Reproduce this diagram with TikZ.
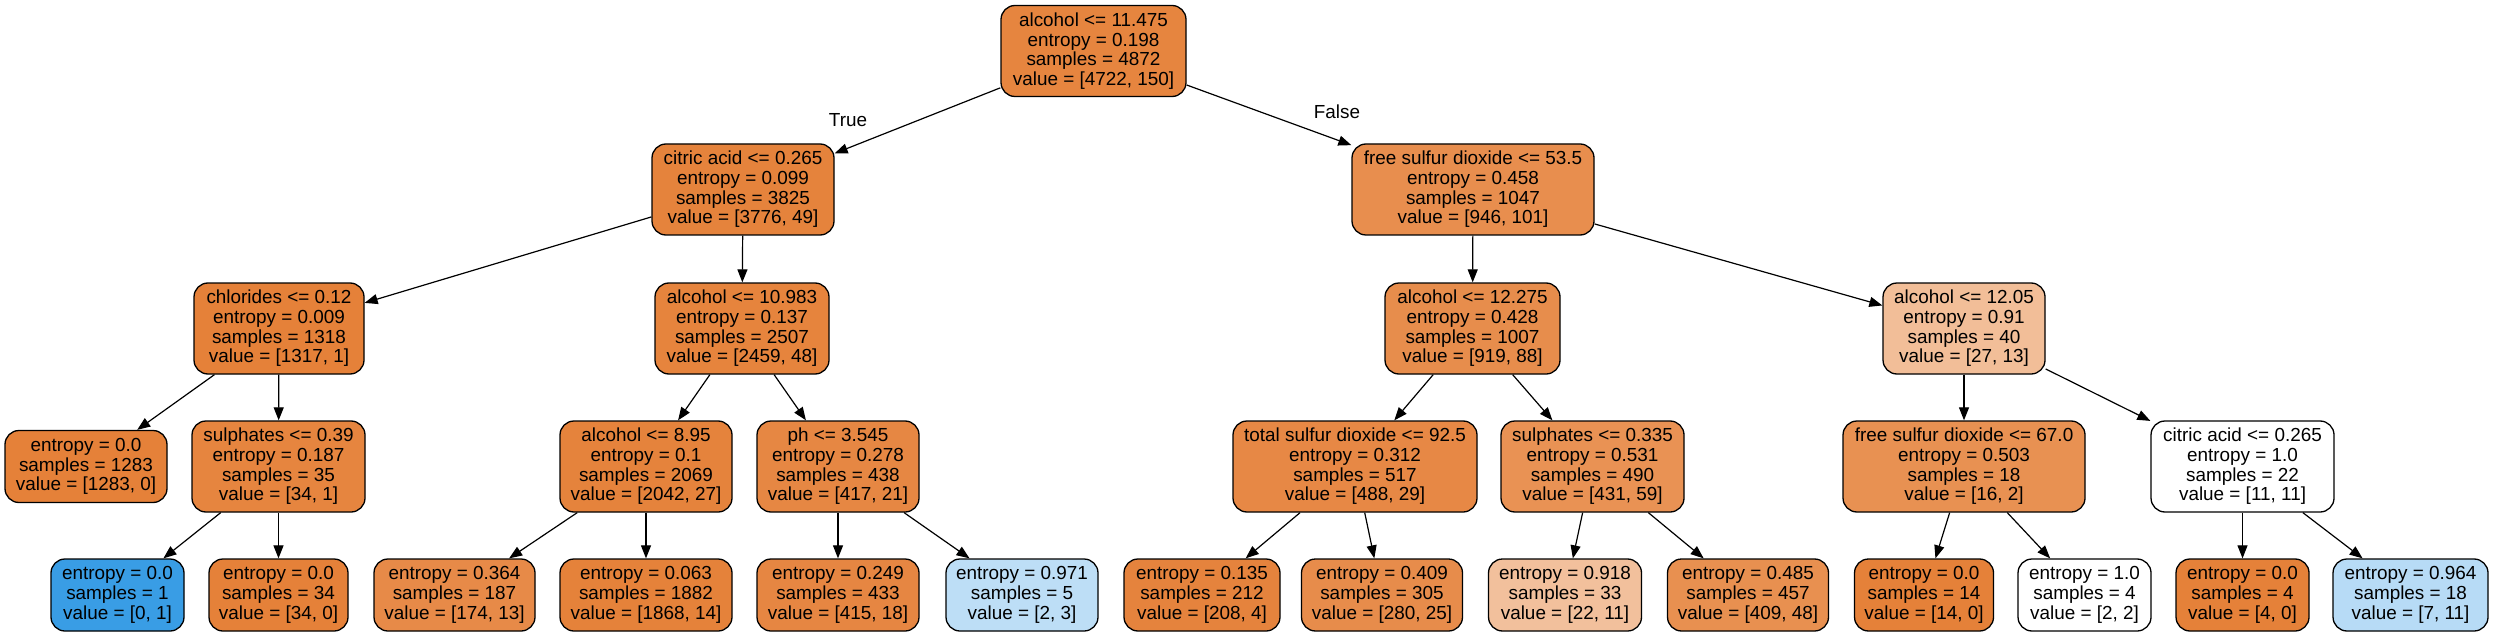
\documentclass[tikz,border=0pt]{standalone}
\usepackage{fontspec}
\setmainfont{Liberation Sans}
\usetikzlibrary{arrows.meta}
\definecolor{cor}{RGB}{229,129,57}
\definecolor{cbl}{RGB}{57,157,229}
\begin{document}
\begin{tikzpicture}[x=0.5pt,y=-0.5pt,
  base/.style={draw=black, line width=0.65pt, rounded corners=7pt, align=center, inner sep=0pt,
    font=\fontsize{9.45}{9.85}\selectfont},
  inn/.style={base, minimum height=45.5pt},
  lf/.style={base, minimum height=36pt},
  edge/.style={line width=0.6pt, -{Triangle[length=6.5pt,width=5pt]}},
  lbl/.style={font=\fontsize{9.45}{10}\selectfont, inner sep=0pt}]
\useasboundingbox[fill=white] (0,0) rectangle (2493,636);
% level 0
\node[inn, fill=cor!96.8!white, minimum width=92.5pt] (r) at (1093.5,51) {alcohol <= 11.475\\entropy = 0.198\\samples = 4872\\value = [4722, 150]};
% level 1
\node[inn, fill=cor!98.7!white, minimum width=91pt] (a) at (743,189.5) {citric acid <= 0.265\\entropy = 0.099\\samples = 3825\\value = [3776, 49]};
\node[inn, fill=cor!89.3!white, minimum width=121pt] (b) at (1473,189.5) {free sulfur dioxide <= 53.5\\entropy = 0.458\\samples = 1047\\value = [946, 101]};
% level 2
\node[inn, fill=cor!99.9!white, minimum width=85pt] (c) at (279,328.5) {chlorides <= 0.12\\entropy = 0.009\\samples = 1318\\value = [1317, 1]};
\node[inn, fill=cor!98!white, minimum width=87pt] (d) at (742,328.5) {alcohol <= 10.983\\entropy = 0.137\\samples = 2507\\value = [2459, 48]};
\node[inn, fill=cor!90.4!white, minimum width=87.5pt] (e) at (1472.5,328.5) {alcohol <= 12.275\\entropy = 0.428\\samples = 1007\\value = [919, 88]};
\node[inn, fill=cor!51.9!white, minimum width=81pt] (f) at (1964,328.5) {alcohol <= 12.05\\entropy = 0.91\\samples = 40\\value = [27, 13]};
% level 3
\node[lf, fill=cor, minimum width=81pt] (g) at (86,466.5) {entropy = 0.0\\samples = 1283\\value = [1283, 0]};
\node[inn, fill=cor!97.1!white, minimum width=86.5pt] (h) at (278.5,466.5) {sulphates <= 0.39\\entropy = 0.187\\samples = 35\\value = [34, 1]};
\node[inn, fill=cor!98.7!white, minimum width=86pt] (i) at (646,466.5) {alcohol <= 8.95\\entropy = 0.1\\samples = 2069\\value = [2042, 27]};
\node[inn, fill=cor!95!white, minimum width=81pt] (j) at (838,466.5) {ph <= 3.545\\entropy = 0.278\\samples = 438\\value = [417, 21]};
\node[inn, fill=cor!94.1!white, minimum width=122pt] (k) at (1355,466.5) {total sulfur dioxide <= 92.5\\entropy = 0.312\\samples = 517\\value = [488, 29]};
\node[inn, fill=cor!86.3!white, minimum width=91.5pt] (l) at (1592.5,466.5) {sulphates <= 0.335\\entropy = 0.531\\samples = 490\\value = [431, 59]};
\node[inn, fill=cor!87.5!white, minimum width=121pt] (m) at (1964,466.5) {free sulfur dioxide <= 67.0\\entropy = 0.503\\samples = 18\\value = [16, 2]};
\node[inn, fill=white, minimum width=91.5pt] (n) at (2242.5,466.5) {citric acid <= 0.265\\entropy = 1.0\\samples = 22\\value = [11, 11]};
% level 4
\node[lf, fill=cbl, minimum width=66.5pt] (o) at (117.5,595) {entropy = 0.0\\samples = 1\\value = [0, 1]};
\node[lf, fill=cor, minimum width=69.5pt] (p) at (278.5,595) {entropy = 0.0\\samples = 34\\value = [34, 0]};
\node[lf, fill=cor!92.5!white, minimum width=80.5pt] (q) at (454.5,595) {entropy = 0.364\\samples = 187\\value = [174, 13]};
\node[lf, fill=cor!99.3!white, minimum width=86pt] (s) at (646,595) {entropy = 0.063\\samples = 1882\\value = [1868, 14]};
\node[lf, fill=cor!95.7!white, minimum width=81pt] (t) at (838,595) {entropy = 0.249\\samples = 433\\value = [415, 18]};
\node[lf, fill=cbl!33.3!white, minimum width=76pt] (u) at (1022,595) {entropy = 0.971\\samples = 5\\value = [2, 3]};
\node[lf, fill=cor!98.1!white, minimum width=78pt] (v) at (1202,595) {entropy = 0.135\\samples = 212\\value = [208, 4]};
\node[lf, fill=cor!91.1!white, minimum width=80.5pt] (w) at (1382,595) {entropy = 0.409\\samples = 305\\value = [280, 25]};
\node[lf, fill=cor!50!white, minimum width=76.5pt] (x) at (1565,595) {entropy = 0.918\\samples = 33\\value = [22, 11]};
\node[lf, fill=cor!88.3!white, minimum width=80.5pt] (y) at (1748,595) {entropy = 0.485\\samples = 457\\value = [409, 48]};
\node[lf, fill=cor, minimum width=69.5pt] (z) at (1924,595) {entropy = 0.0\\samples = 14\\value = [14, 0]};
\node[lf, fill=white, minimum width=66.5pt] (aa) at (2084.5,595) {entropy = 1.0\\samples = 4\\value = [2, 2]};
\node[lf, fill=cor, minimum width=66.5pt] (bb) at (2242.5,595) {entropy = 0.0\\samples = 4\\value = [4, 0]};
\node[lf, fill=cbl!36.4!white, minimum width=77.5pt] (cc) at (2410.5,595) {entropy = 0.964\\samples = 18\\value = [7, 11]};
% labels
\node[lbl] (tl) at (848,120) {True};
\node[lbl] (fl) at (1337,112) {False};
% edges
\foreach \p/\c in {r/a,r/b,a/c,a/d,b/e,b/f,c/g,c/h,d/i,d/j,e/k,e/l,f/m,f/n,h/o,h/p,i/q,i/s,j/t,j/u,k/v,k/w,l/x,l/y,m/z,m/aa,n/bb,n/cc}
  \draw[edge] (\p) -- (\c);
\end{tikzpicture}
\end{document}
